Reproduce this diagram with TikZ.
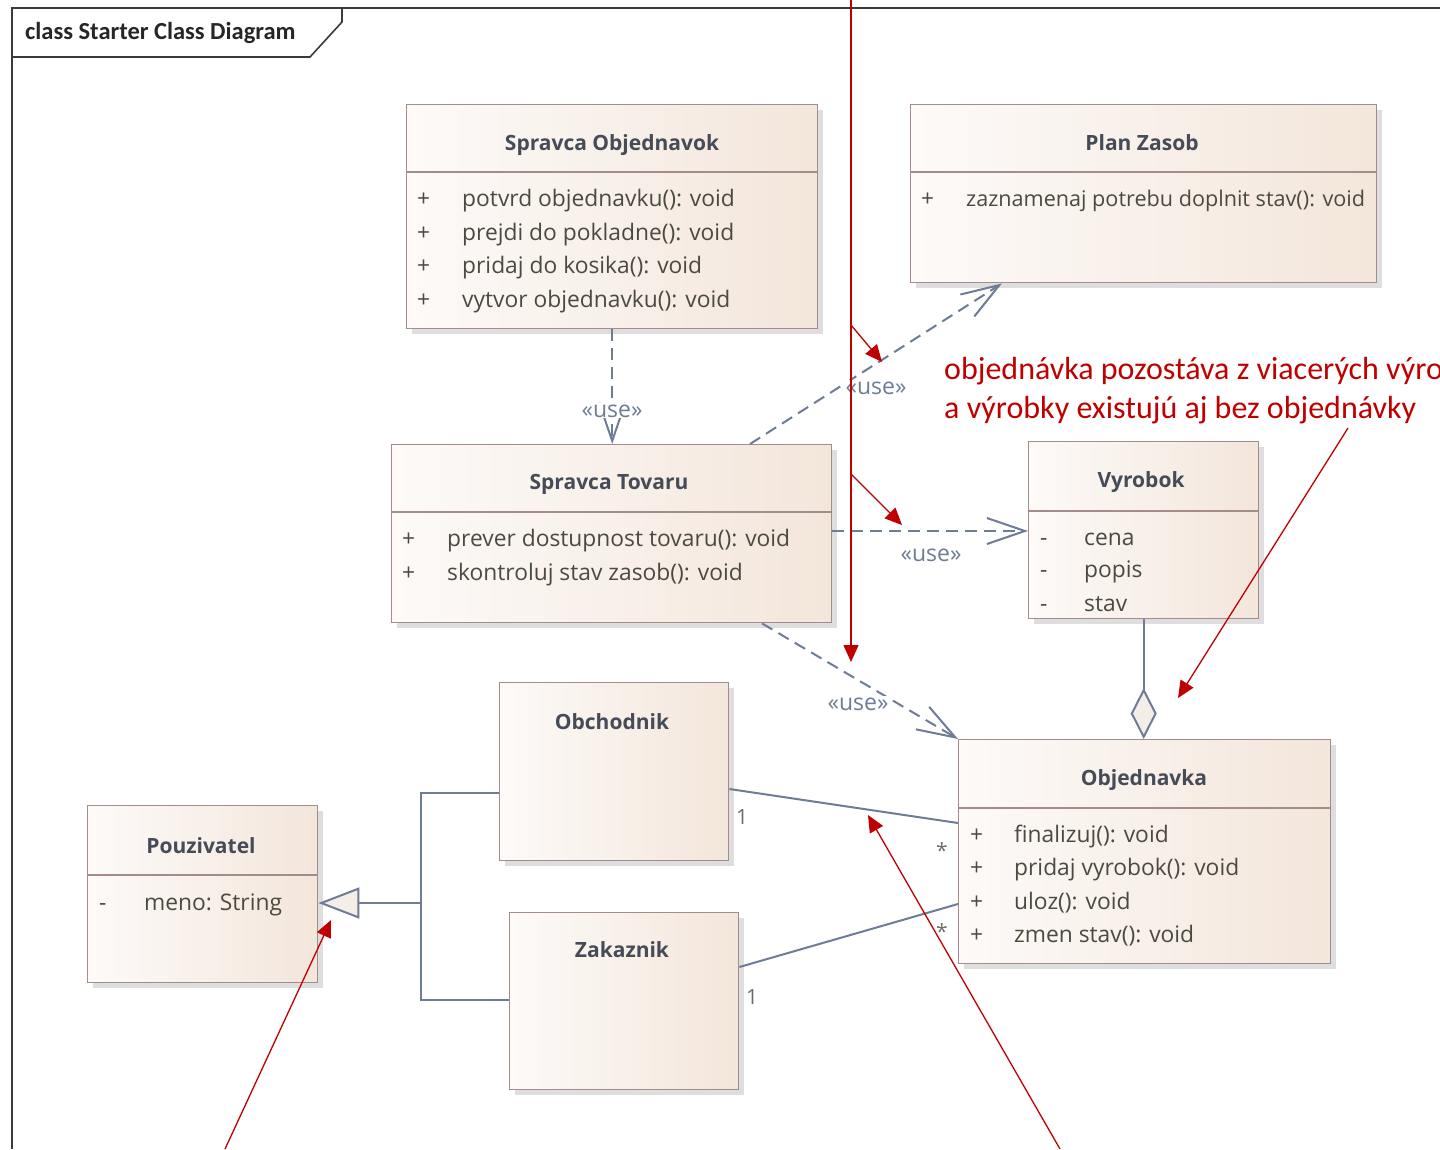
\documentclass[tikz,border=0pt]{standalone}
\usepackage{fontspec}
\setmainfont{Open Sans}
\newfontfamily\notefont{Carlito}
\usetikzlibrary{arrows.meta,shadows,calc}

\definecolor{boxline}{HTML}{A38C8C}
\definecolor{boxleft}{HTML}{FDFAF8}
\definecolor{boxright}{HTML}{F3E6DB}
\definecolor{conn}{HTML}{6E7C96}
\definecolor{note}{HTML}{C00000}
\definecolor{nametext}{HTML}{454B57}
\definecolor{membertext}{HTML}{4A4A40}
\definecolor{frameline}{HTML}{3A3A3A}
\definecolor{tipfill}{HTML}{F5EDE8}

\tikzset{
  classbox/.style={draw=boxline, line width=1.4pt, left color=boxleft, right color=boxright,
    anchor=north west, inner sep=0pt,
    general shadow={fill=black!13, shadow xshift=5pt, shadow yshift=-5pt}},
  sepline/.style={draw=boxline, line width=1.4pt},
  cname/.style={font=\fontsize{21}{24}\selectfont\bfseries, text=nametext, inner sep=0pt, anchor=base},
  member/.style={font=\fontsize{22.8}{26}\selectfont, text=membertext, anchor=base west, inner sep=0pt},
  stereo/.style={font=\fontsize{23}{26}\selectfont, text=conn, fill=white, inner sep=1pt, anchor=base},
  mult/.style={font=\fontsize{21}{24}\selectfont, text=membertext!80, inner sep=0pt, anchor=base},
  usedep/.style={draw=conn, line width=2pt, dash pattern=on 12pt off 7pt,
    -{Straight Barb[length=38pt,width=26pt,line width=2pt]}},
  assoc/.style={draw=conn, line width=2pt},
  gen/.style={draw=conn, line width=2pt},
  notetext/.style={font=\notefont\fontsize{32}{36}\selectfont, text=note, anchor=base west, inner sep=0pt},
  notearrow/.style={draw=note, line width=1.3pt, -{Triangle[length=17pt,width=15pt]}},
}

\begin{document}
\begin{tikzpicture}[x=1pt,y=-1pt]
\path[use as bounding box, clip] (0,0) rectangle (1440,1149);
\fill[white] (0,0) rectangle (1440,1149);

% diagram frame with its name tab
\draw[frameline, line width=2pt] (1440,8) -- (12,8) -- (12,1149);
\draw[frameline, line width=1.6pt] (342,8) -- (342,22) -- (310,57) -- (12,57);
\node[font=\notefont\fontsize{24.5}{28}\selectfont\bfseries, text=black!85, anchor=base west, inner sep=0pt] (title) at (25,39) {class Starter Class Diagram};

% classes
\node[classbox, minimum width=411pt, minimum height=224pt] (so) at (406,104) {};
\node[classbox, minimum width=466pt, minimum height=178pt] (pz) at (910,104) {};
\node[classbox, minimum width=440pt, minimum height=178pt] (st) at (391,444) {};
\node[classbox, minimum width=230pt, minimum height=177pt] (vy) at (1028,441) {};
\node[classbox, minimum width=372pt, minimum height=224pt] (ob) at (958,739) {};
\node[classbox, minimum width=229pt, minimum height=178pt] (obc) at (499,682) {};
\node[classbox, minimum width=229pt, minimum height=177pt] (zak) at (509,912) {};
\node[classbox, minimum width=230pt, minimum height=177pt] (pou) at (87,805) {};

% compartment separators
\draw[sepline] (so.west |- 0,172) -- (so.east |- 0,172);
\draw[sepline] (pz.west |- 0,172) -- (pz.east |- 0,172);
\draw[sepline] (st.west |- 0,512) -- (st.east |- 0,512);
\draw[sepline] (vy.west |- 0,511) -- (vy.east |- 0,511);
\draw[sepline] (ob.west |- 0,808) -- (ob.east |- 0,808);
\draw[sepline] (pou.west |- 0,875) -- (pou.east |- 0,875);

% class names
\node[cname] (so-name) at (612,150) {Spravca Objednavok};
\node[cname] (pz-name) at (1142,150) {Plan Zasob};
\node[cname] (st-name) at (609,489) {Spravca Tovaru};
\node[cname] (vy-name) at (1141,487) {Vyrobok};
\node[cname] (ob-name) at (1144,785) {Objednavka};
\node[cname] (obc-name) at (612,729) {Obchodnik};
\node[cname] (zak-name) at (622,957) {Zakaznik};
\node[cname] (pou-name) at (201,853) {Pouzivatel};

% Spravca Objednavok operations
\node[member] (so-v1) at (417,206) {+};
\node[member] (so-m1) at (462,206) {potvrd objednavku(): void};
\node[member] (so-v2) at (417,240) {+};
\node[member] (so-m2) at (462,240) {prejdi do pokladne(): void};
\node[member] (so-v3) at (417,273) {+};
\node[member] (so-m3) at (462,273) {pridaj do kosika(): void};
\node[member] (so-v4) at (417,307) {+};
\node[member] (so-m4) at (462,307) {vytvor objednavku(): void};

% Plan Zasob operations
\node[member] (pz-v1) at (921,206) {+};
\node[member, font=\fontsize{21.6}{26}\selectfont] (pz-m1) at (966,206) {zaznamenaj potrebu doplnit stav(): void};

% Spravca Tovaru operations
\node[member] (st-v1) at (402,546) {+};
\node[member] (st-m1) at (447,546) {prever dostupnost tovaru(): void};
\node[member] (st-v2) at (402,580) {+};
\node[member] (st-m2) at (447,580) {skontroluj stav zasob(): void};

% Vyrobok attributes
\node[member] (vy-v1) at (1040,545) {-};
\node[member] (vy-a1) at (1084,545) {cena};
\node[member] (vy-v2) at (1040,577) {-};
\node[member] (vy-a2) at (1084,577) {popis};
\node[member] (vy-v3) at (1040,611) {-};
\node[member] (vy-a3) at (1084,611) {stav};

% Objednavka operations
\node[member] (ob-v1) at (970,842) {+};
\node[member] (ob-m1) at (1014,842) {finalizuj(): void};
\node[member] (ob-v2) at (970,875) {+};
\node[member] (ob-m2) at (1014,875) {pridaj vyrobok(): void};
\node[member] (ob-v3) at (970,909) {+};
\node[member] (ob-m3) at (1014,909) {uloz(): void};
\node[member] (ob-v4) at (970,942) {+};
\node[member] (ob-m4) at (1014,942) {zmen stav(): void};

% Pouzivatel attributes
\node[member] (pou-v1) at (99,910) {-};
\node[member] (pou-a1) at (144,910) {meno: String};

% usage dependencies
\draw[usedep] (so.south) -- (so.south |- st.north);
\draw[usedep] ($(st.north west)+(359,0)$) -- ($(pz.south west)+(92,0)$);
\draw[usedep] (st.east |- 0,531) -- (vy.west |- 0,531);
\draw[usedep] ($(st.south west)+(371,0)$) -- (ob.north west);
\node[stereo] (use1) at (612,417) {«use»};
\node[stereo] (use2) at (876,394) {«use»};
\node[stereo] (use3) at (931,561) {«use»};
\node[stereo] (use4) at (858,710) {«use»};

% aggregation Vyrobok -- Objednavka
\draw[assoc, -{Diamond[length=51pt,width=26pt,fill=tipfill,line width=2pt]}] (vy.south) -- (vy.south |- ob.north);

% associations with multiplicities
\draw[assoc] (obc.east |- 0,789) -- (ob.west |- 0,823);
\draw[assoc] (zak.east |- 0,967) -- (ob.west |- 0,904);
\node[mult] (m1a) at (742,824) {1};
\node[mult] (m1b) at (942,858) {*};
\node[mult] (m2a) at (752,1004) {1};
\node[mult] (m2b) at (942,939) {*};

% generalization tree
\coordinate (gj) at (421,903);
\draw[gen] (obc.west |- 0,793) -| (gj);
\draw[gen] (zak.west |- 0,1000) -| (gj);
\draw[gen, -{Triangle[open,length=41pt,width=31pt,fill=tipfill,line width=2pt]}] (gj) -- (pou.east |- gj);

% notes
\node[notetext] (note1) at (944,379) {objednávka pozostáva z viacerých výro};
\node[notetext] (note2) at (944,418) {a výrobky existujú aj bez objednávky};

\coordinate (ntop) at (851,0);
\coordinate (nb1) at (851,325);
\coordinate (nb2) at (851,474);
\coordinate (nend) at (851,662);
\coordinate (t1) at (882,362);
\coordinate (t2) at (902,525);
\coordinate (nsrc) at (1348,428);
\coordinate (t3) at (1178,698);
\coordinate (s4) at (1060,1149);
\coordinate (t4) at (868,815);
\coordinate (s5) at (225,1149);
\coordinate (t5) at (331,920);
\draw[notearrow] (ntop) -- (nend);
\draw[notearrow] (nb1) -- (t1);
\draw[notearrow] (nb2) -- (t2);
\draw[notearrow] (nsrc) -- (t3);
\draw[notearrow] (s4) -- (t4);
\draw[notearrow] (s5) -- (t5);
\end{tikzpicture}
\end{document}
